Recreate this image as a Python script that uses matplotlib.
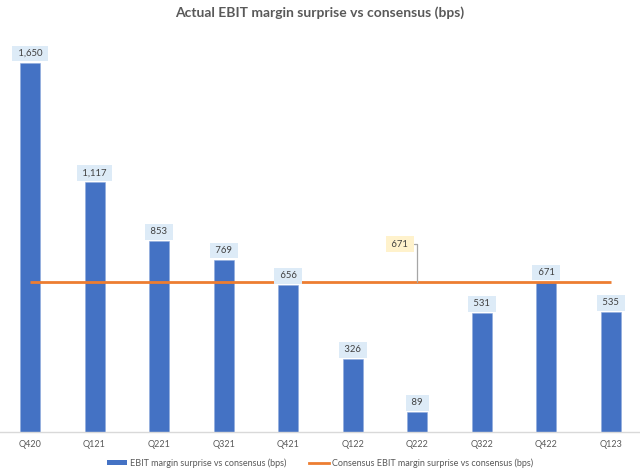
import matplotlib
matplotlib.use("Agg")
import matplotlib.pyplot as plt
from matplotlib.patches import Patch
from matplotlib.lines import Line2D

categories = ["Q420", "Q121", "Q221", "Q321", "Q421", "Q122", "Q222", "Q322", "Q422", "Q123"]
surprise = [1650, 1117, 853, 769, 656, 326, 89, 531, 671, 535]
consensus = [671] * len(categories)
callout_index = 6

plt.rcParams['font.family'] = ['Lato', 'DejaVu Sans']

BLUE = "#4472C4"
ORANGE = "#ED7D31"
GRAY = "#595959"
DARK = "#404040"

fig = plt.figure(figsize=(6.4, 4.71), dpi=100)
ax = fig.add_axes([-0.0036, 0.0835, 1.0085, 0.855])

x = list(range(len(categories)))
bars = ax.bar(x, surprise, width=0.31, color=BLUE, edgecolor="#8FAADC", linewidth=0.4, zorder=2)
ax.plot(x, consensus, color=ORANGE, linewidth=2.0, zorder=3, solid_capstyle="butt")

for xi, v in zip(x, surprise):
    ax.annotate(f" {v:,} ", xy=(xi, v), xytext=(0, 6.5), textcoords="offset points",
                ha="center", va="center", fontsize=6.8, color=DARK, zorder=4,
                bbox=dict(boxstyle="square,pad=0.35", fc="#DDEBF7", ec="none"))

ax.annotate(f" {consensus[callout_index]:,} ", xy=(callout_index, consensus[callout_index]),
            xytext=(-12.5, 27), textcoords="offset points",
            ha="center", va="center", fontsize=6.8, color=DARK, zorder=4,
            bbox=dict(boxstyle="square,pad=0.35", fc="#FFF2CC", ec="none"),
            arrowprops=dict(arrowstyle="-", color="#A6A6A6", lw=0.9,
                            connectionstyle="angle,angleA=0,angleB=90,rad=0",
                            shrinkA=0, shrinkB=0))

ax.set_xlim(-0.5, len(categories) - 0.5)
ax.set_ylim(0, 1800)
ax.set_xticks(x)
ax.set_xticklabels(categories, fontsize=6.5, color=GRAY)
ax.tick_params(axis="x", length=0, pad=6)
ax.set_yticks([])
for s in ["top", "right", "left"]:
    ax.spines[s].set_visible(False)
ax.spines["bottom"].set_color("#D9D9D9")
ax.spines["bottom"].set_linewidth(1.0)
ax.set_facecolor("none")

fig.text(0.5, 0.974, "Actual EBIT margin surprise vs consensus (bps)", ha="center", va="center",
         fontsize=10, fontweight="bold", color=GRAY)

handles = [Patch(facecolor=BLUE, edgecolor="none"), Line2D([0], [0], color=ORANGE, lw=2.0)]
labels = ["EBIT margin surprise vs consensus (bps)", "Consensus EBIT margin surprise vs consensus (bps)"]
fig.legend(handles, labels, loc="center", bbox_to_anchor=(0.5, 0.017), ncol=2, frameon=False,
           fontsize=6.5, labelcolor=GRAY, handlelength=2.2, handleheight=0.45,
           handletextpad=0.3, columnspacing=2.6)

fig.savefig("out.png", dpi=100)
